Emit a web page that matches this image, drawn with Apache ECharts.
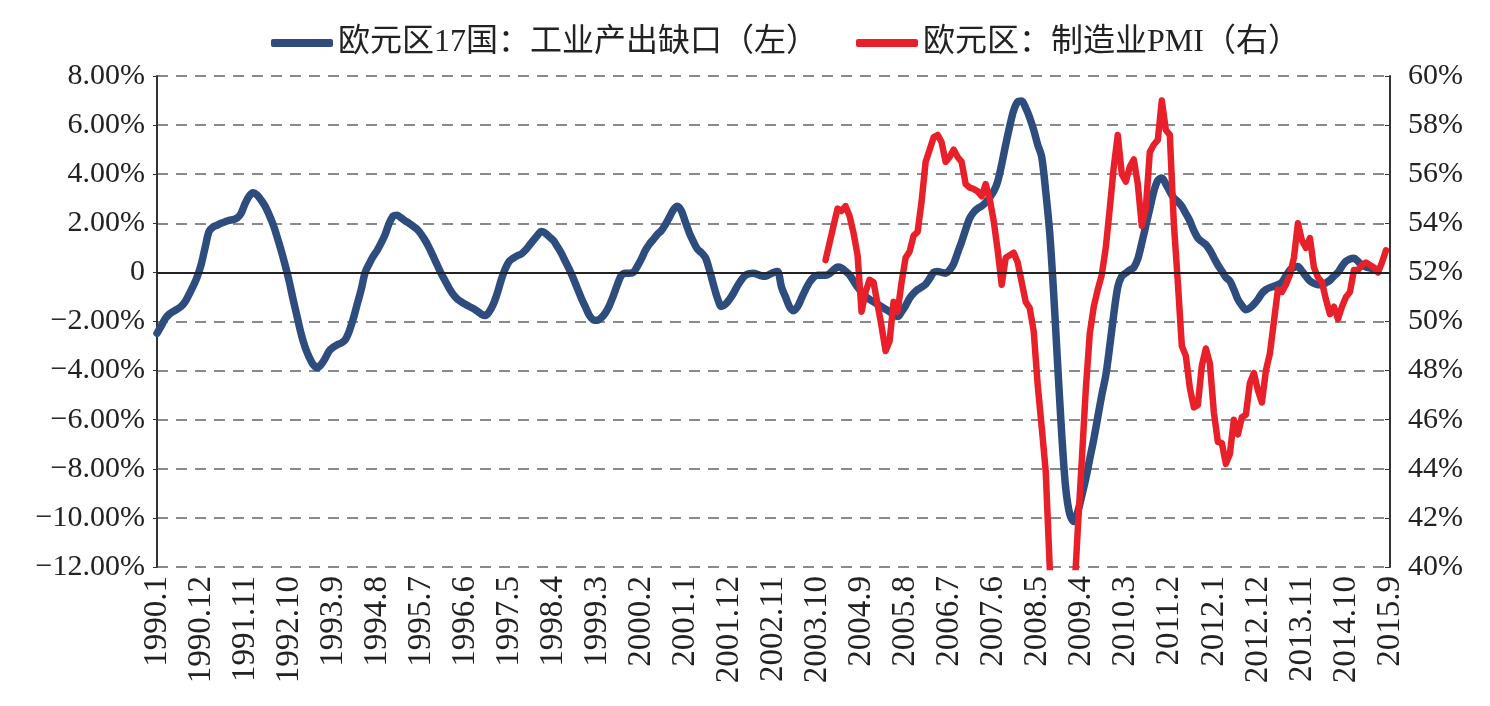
<!DOCTYPE html>
<html>
<head>
<meta charset="utf-8">
<script src="https://cdn.jsdelivr.net/npm/echarts@6/dist/echarts.min.js"></script>
<style>
  html, body { margin: 0; padding: 0; background: #fff; }
  #chart { width: 1490px; height: 706px; }
</style>
</head>
<body>
<div id="chart"></div>
<script>
// months 1990.1 .. 2015.9
const months = []
for (let y = 1990; y <= 2015; y++) {
  for (let m = 1; m <= 12; m++) {
    if (y === 2015 && m > 9) break
    months.push(y + '.' + m)
  }
}

// 欧元区17国：工业产出缺口（%），monthly from 1990.1
const outputGap = [
  -2.48, -2.2, -1.9, -1.71, -1.6, -1.5, -1.39, -1.2, -0.9, -0.57, -0.2, 0.3,
  1.0, 1.67, 1.85, 1.92, 2.0, 2.06, 2.12, 2.15, 2.22, 2.4, 2.8, 3.1,
  3.24, 3.15, 2.95, 2.7, 2.35, 1.95, 1.45, 0.9, 0.3, -0.35, -1.1, -1.8,
  -2.5, -3.05, -3.45, -3.75, -3.88, -3.75, -3.5, -3.2, -3.05, -2.95, -2.88, -2.75,
  -2.4, -1.9, -1.3, -0.7, 0.0, 0.35, 0.65, 0.9, 1.2, 1.55, 2.0, 2.3,
  2.33, 2.22, 2.1, 2.0, 1.88, 1.75, 1.55, 1.3, 1.0, 0.65, 0.3, -0.05,
  -0.35, -0.65, -0.9, -1.08, -1.2, -1.3, -1.39, -1.47, -1.58, -1.7, -1.76, -1.6,
  -1.3, -0.85, -0.3, 0.15, 0.45, 0.58, 0.68, 0.75, 0.9, 1.1, 1.3, 1.5,
  1.67, 1.6, 1.45, 1.3, 1.05, 0.78, 0.45, 0.12, -0.25, -0.65, -1.05, -1.4,
  -1.75, -1.93, -1.95, -1.85, -1.65, -1.35, -0.95, -0.5, -0.12, -0.03, -0.03, 0.0,
  0.25, 0.55, 0.9, 1.15, 1.35, 1.55, 1.7, 1.95, 2.25, 2.55, 2.69, 2.5,
  2.05, 1.6, 1.25, 0.95, 0.8, 0.6, 0.1, -0.5, -1.05, -1.39, -1.3, -1.1,
  -0.85, -0.55, -0.3, -0.12, -0.05, -0.03, -0.08, -0.14, -0.16, -0.08, 0.0, 0.04,
  -0.6, -1.0, -1.4, -1.56, -1.4, -1.05, -0.7, -0.4, -0.2, -0.12, -0.12, -0.12,
  -0.05, 0.1, 0.22, 0.18, 0.05, -0.1, -0.35, -0.6, -0.8, -0.98, -1.1, -1.2,
  -1.3, -1.4, -1.5, -1.6, -1.72, -1.8, -1.6, -1.35, -1.05, -0.85, -0.7, -0.6,
  -0.48, -0.25, 0.0, 0.04, 0.0, -0.03, 0.1, 0.35, 0.8, 1.25, 1.75, 2.2,
  2.45, 2.6, 2.7, 2.85, 3.05, 3.3, 3.7, 4.4, 5.2, 5.95, 6.6, 6.95,
  6.98, 6.7, 6.3, 5.8, 5.2, 4.7, 3.3, 1.6, -0.9, -3.8, -6.6, -8.8,
  -9.85, -10.15, -9.75, -9.1, -8.4, -7.6, -6.8, -5.9, -5.0, -4.2, -3.0, -1.7,
  -0.6, -0.15, -0.03, 0.1, 0.2, 0.55, 1.2, 1.9, 2.6, 3.3, 3.75, 3.85,
  3.6, 3.3, 3.03, 2.88, 2.69, 2.4, 2.1, 1.7, 1.4, 1.25, 1.13, 0.9,
  0.6, 0.3, 0.05, -0.2, -0.35, -0.7, -1.1, -1.35, -1.52, -1.45, -1.3, -1.1,
  -0.85, -0.7, -0.62, -0.57, -0.5, -0.4, -0.15, 0.1, 0.2, 0.24, 0.05, -0.15,
  -0.35, -0.45, -0.5, -0.5, -0.42, -0.32, -0.15, 0.0, 0.25, 0.45, 0.55, 0.58,
  0.45, 0.3, 0.22, 0.18, 0.15
]

// 欧元区：制造业PMI（%），monthly from 2003.12
const pmiStart = '2003.12'
const pmi = [
  52.5,
  53.2, 53.9, 54.6, 54.5, 54.7, 54.3, 53.6, 52.7, 50.4, 51.2, 51.7, 51.6,
  50.7, 49.8, 48.8, 49.2, 50.8, 50.4, 51.6, 52.6, 52.85, 53.5, 53.65, 54.9,
  56.5, 57.0, 57.5, 57.6, 57.3, 56.5, 56.7, 57.0, 56.7, 56.5, 55.6, 55.45,
  55.4, 55.3, 55.1, 55.6, 55.0, 54.1, 52.9, 51.5, 52.6, 52.7, 52.8, 52.4,
  51.6, 50.8, 50.55, 49.6, 47.4, 45.7, 43.9, 40.0, 37.5, 35.5, 34.5, 34.0,
  35.0, 38.5, 41.5, 44.3, 47.2, 49.5, 50.6, 51.3, 51.9, 53.0, 54.6, 56.3,
  57.6, 56.0, 55.7, 56.3, 56.6, 55.6, 53.9, 54.6, 56.9, 57.2, 57.4, 59.0,
  57.8, 57.6, 54.0, 51.6, 49.0, 48.6, 47.3, 46.5, 46.6, 48.2, 48.9, 48.3,
  46.3, 45.1, 45.05, 44.2, 44.6, 46.0, 45.4, 46.1, 46.2, 47.5, 47.9, 47.2,
  46.7, 48.0, 48.7, 50.0, 51.3, 51.2, 51.5, 51.9, 52.6, 54.0, 53.3, 53.0,
  53.4, 52.2, 51.8, 51.6, 50.9, 50.3, 50.6, 50.1, 50.6, 51.0, 51.2, 52.1,
  52.1, 52.3, 52.4, 52.3, 52.2, 52.0, 52.4, 52.9
]

const pmiData = months.map(() => null)
pmi.forEach((v, k) => { pmiData[months.indexOf(pmiStart) + k] = v })

const serif = '"Liberation Serif", "Times New Roman", "Noto Sans CJK SC", serif'
const gridDash = { color: '#8a8a8a', type: [11, 8], width: 2 }

const chart = echarts.init(document.getElementById('chart'))
chart.setOption({
  animation: false,
  backgroundColor: '#fff',
  textStyle: { fontFamily: serif },
  legend: {
    top: 22,
    left: 266,
    itemWidth: 62,
    itemHeight: 8,
    itemGap: 38,
    textStyle: { fontSize: 32, color: '#222', fontFamily: serif },
    data: [
      { name: '欧元区17国：工业产出缺口（左）', icon: 'roundRect' },
      { name: '欧元区：制造业PMI（右）', icon: 'roundRect' }
    ]
  },
  grid: { left: 157, right: 100, top: 76, bottom: 139 },
  xAxis: {
    type: 'category',
    data: months,
    boundaryGap: false,
    axisLine: { show: false },
    axisTick: { show: false },
    axisLabel: {
      interval: 10,
      rotate: 90,
      fontSize: 33,
      color: '#222',
      margin: 9,
      fontFamily: serif
    }
  },
  yAxis: [
    {
      type: 'value',
      min: -12,
      max: 8,
      interval: 2,
      axisLine: { show: true, lineStyle: { color: '#333', width: 2 } },
      axisTick: { show: true, length: 4, lineStyle: { color: '#333' } },
      splitLine: { show: true, lineStyle: gridDash },
      axisLabel: {
        fontSize: 30,
        color: '#222',
        margin: 12,
        fontFamily: serif,
        formatter: v => v === 0 ? '0' : (v < 0 ? '\u2212' : '') + Math.abs(v).toFixed(2) + '%'
      }
    },
    {
      type: 'value',
      min: 40,
      max: 60,
      interval: 2,
      position: 'right',
      axisLine: { show: true, lineStyle: { color: '#333', width: 2 } },
      axisTick: { show: true, inside: true, length: 5, lineStyle: { color: '#333' } },
      splitLine: { show: false },
      axisLabel: {
        fontSize: 30,
        color: '#222',
        margin: 18,
        fontFamily: serif,
        formatter: v => v + '%'
      }
    }
  ],
  series: [
    {
      name: '欧元区17国：工业产出缺口（左）',
      type: 'line',
      yAxisIndex: 0,
      data: outputGap,
      showSymbol: false,
      smooth: 0.3,
      color: '#2E4C7D',
      lineStyle: { width: 7.5, color: '#2E4C7D', cap: 'round', join: 'round' },
      markLine: {
        silent: true,
        symbol: 'none',
        label: { show: false },
        lineStyle: { color: '#222', type: 'solid', width: 2 },
        data: [{ yAxis: 0 }]
      },
      z: 3
    },
    {
      name: '欧元区：制造业PMI（右）',
      type: 'line',
      yAxisIndex: 1,
      data: pmiData,
      showSymbol: false,
      connectNulls: false,
      color: '#E8202A',
      lineStyle: { width: 6.5, color: '#E8202A', cap: 'round', join: 'round' },
      clip: true,
      z: 4
    }
  ]
})
</script>
</body>
</html>
